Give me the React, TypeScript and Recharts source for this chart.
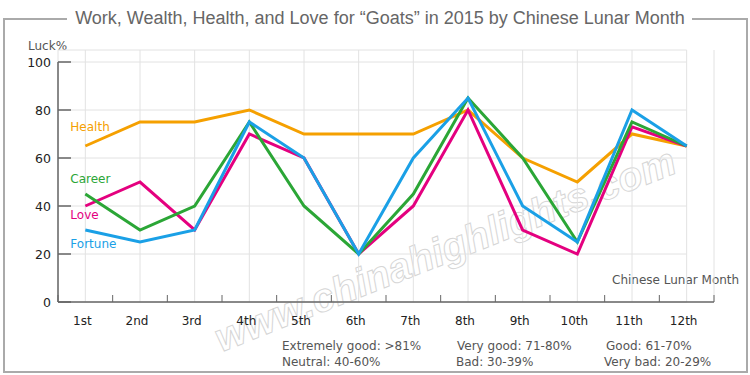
import React from 'react';
import { LineChart, Line, XAxis, YAxis, CartesianGrid, LabelList } from 'recharts';

const months = ['1st', '2nd', '3rd', '4th', '5th', '6th', '7th', '8th', '9th', '10th', '11th', '12th'];
const health = [65, 75, 75, 80, 70, 70, 70, 80, 60, 50, 70, 65];
const career = [45, 30, 40, 75, 40, 20, 45, 85, 60, 25, 75, 65];
const love = [40, 50, 30, 70, 60, 20, 40, 80, 30, 20, 73, 65];
const fortune = [30, 25, 30, 75, 60, 20, 60, 85, 40, 25, 80, 65];
const yTicks = [0, 20, 40, 60, 80, 100];
const yDomainMax = 105;
const yLabelMax = 100;

const title = 'Work, Wealth, Health, and Love for \u201cGoats\u201d in 2015 by Chinese Lunar Month';
const yAxisTitle = 'Luck%';
const xAxisTitle = 'Chinese Lunar Month';
const notesRow1 = ['Extremely good: >81%', 'Very good: 71-80%', 'Good: 61-70%'];
const notesRow2 = ['Neutral: 40-60%', 'Bad: 30-39%', 'Very bad: 20-29%'];
const watermark = 'www.chinahighlights.com';

const series = [
  { key: 'health', name: 'Health', color: '#F5A000', dy: -15.5 },
  { key: 'love', name: 'Love', color: '#E4007F', dy: 12.5 },
  { key: 'career', name: 'Career', color: '#2BA636', dy: -11.5 },
  { key: 'fortune', name: 'Fortune', color: '#1AA0E6', dy: 17.5 },
];

const data = months.map((m, i) => ({
  month: m,
  health: health[i],
  career: career[i],
  love: love[i],
  fortune: fortune[i],
}));

const W = 750;
const H = 375;
const MARGIN = { top: 50, right: 36, bottom: 43, left: 8 };
const Y_AXIS_W = 50;
const X_AXIS_H = 30;
const PLOT_W = W - MARGIN.left - MARGIN.right - Y_AXIS_W;
const PLOT_H = H - MARGIN.top - MARGIN.bottom - X_AXIS_H;
const BAND = PLOT_W / months.length;
const AXIS_COLOR = '#666';
const FONT = '"DejaVu Sans", Verdana, sans-serif';

const YTick = (props: any) => {
  const { x, y, payload } = props;
  return (
    <g>
      <line x1={x} x2={x + 13} y1={y} y2={y} stroke={AXIS_COLOR} strokeWidth={1.5} />
      {payload.value === 0 && (
        <line x1={x} x2={x} y1={y} y2={y - (PLOT_H * yLabelMax) / yDomainMax} stroke={AXIS_COLOR} strokeWidth={1.5} />
      )}
      <text x={x - 7} y={y + 4.5} textAnchor="end" fontSize={12.5} fontFamily={FONT} fill="#222">
        {payload.value}
      </text>
    </g>
  );
};

const XTick = (props: any) => {
  const { x, y, payload } = props;
  const idx = months.indexOf(payload.value);
  return (
    <g>
      <line x1={x - BAND / 2} x2={x - BAND / 2} y1={y} y2={y - 7} stroke={AXIS_COLOR} strokeWidth={1} />
      {idx === months.length - 1 && (
        <line x1={x + BAND / 2} x2={x + BAND / 2} y1={y} y2={y - 7} stroke={AXIS_COLOR} strokeWidth={1} />
      )}
      <text x={x - 3} y={y + 23} textAnchor="middle" fontSize={12} fontFamily={FONT} fill="#222">
        {payload.value}
      </text>
    </g>
  );
};

const HGrid = (props: any) => {
  const { x1, x2, y1, y2, index } = props;
  return (
    <line
      key={`h-${index}-${y1}`}
      x1={x1}
      x2={x2 - (x2 - x1) / (2 * months.length)}
      y1={y1}
      y2={y2}
      stroke="#e2e2e2"
      strokeWidth={1}
    />
  );
};

const makeLabel = (name: string, color: string, dy: number) => (props: any) => {
  const { x, y, index } = props;
  if (index !== 0) return null;
  return (
    <text x={x - 15} y={y + dy} fontSize={12} fontFamily={FONT} fill={color}>
      {name}
    </text>
  );
};

export default function App() {
  return (
    <div style={{ position: 'absolute', left: 0, top: 0, width: W, height: H, background: '#fff' }}>
      <svg width={W} height={H} style={{ position: 'absolute', left: 0, top: 0 }}>
        <text
          transform="translate(450,262) rotate(-21.5)"
          textAnchor="middle"
          fontSize={40}
          fontWeight="bold"
          fontStyle="italic"
          fontFamily='"Liberation Sans", Arial, sans-serif'
          fill="#fff"
          stroke="#d6d6d6"
          strokeWidth={1}
        >
          {watermark}
        </text>
        <g stroke="#aaa" strokeWidth={2} fill="none">
          <line x1={4} y1={19} x2={67} y2={19} />
          <line x1={692} y1={19} x2={747} y2={19} />
          <line x1={4} y1={18} x2={4} y2={372} />
          <line x1={747} y1={18} x2={747} y2={372} />
          <line x1={3} y1={372} x2={748} y2={372} />
        </g>
        <text x={380} y={24} textAnchor="middle" fontSize={18} fontFamily='"Liberation Sans", Arial, sans-serif' fill="#666">
          {title}
        </text>
        <text x={28} y={50} fontSize={12} fontFamily={FONT} fill="#555">
          {yAxisTitle}
        </text>
        <text x={612} y={283.5} fontSize={12} fontFamily={FONT} fill="#555">
          {xAxisTitle}
        </text>
        {notesRow1.map((t, i) => (
          <text key={t} x={[282, 457, 606][i]} y={349.5} fontSize={12} fontFamily={FONT} fill="#555">
            {t}
          </text>
        ))}
        {notesRow2.map((t, i) => (
          <text key={t} x={[282, 456, 604][i]} y={366} fontSize={12} fontFamily={FONT} fill="#555">
            {t}
          </text>
        ))}
      </svg>
      <div style={{ position: 'absolute', left: 0, top: 0 }}>
        <LineChart width={W} height={H} data={data} margin={MARGIN}>
          <CartesianGrid vertical={true} horizontal={HGrid} stroke="#e2e2e2" />
          <XAxis
            dataKey="month"
            height={X_AXIS_H}
            padding={{ left: BAND / 2, right: BAND / 2 }}
            interval={0}
            tickSize={0}
            tickMargin={0}
            tickLine={false}
            axisLine={{ stroke: AXIS_COLOR, strokeWidth: 1.5 }}
            tick={XTick}
          />
          <YAxis
            width={Y_AXIS_W}
            domain={[0, yDomainMax]}
            ticks={yTicks}
            interval={0}
            tickSize={0}
            tickMargin={0}
            tickLine={false}
            axisLine={false}
            tick={YTick}
          />
          {series.map((s) => (
            <Line
              key={s.key}
              type="linear"
              dataKey={s.key}
              stroke={s.color}
              strokeWidth={3}
              dot={false}
              activeDot={false}
              isAnimationActive={false}
            >
              <LabelList dataKey={s.key} content={makeLabel(s.name, s.color, s.dy)} />
            </Line>
          ))}
        </LineChart>
      </div>
    </div>
  );
}
